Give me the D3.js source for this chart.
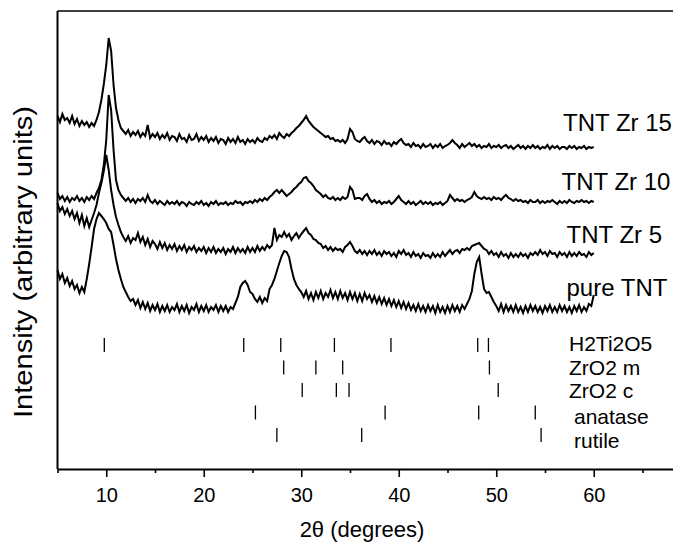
<!DOCTYPE html>
<html>
<head>
<meta charset="utf-8">
<title>XRD patterns TNT Zr</title>
<script src="https://cdn.jsdelivr.net/npm/d3@7/dist/d3.min.js"></script>
<style>
  body { margin: 0; background: #fff; }
  svg { display: block; font-family: Arial, "Liberation Sans", sans-serif; }
</style>
</head>
<body>
<div id="chart"></div>
<script>
const width = 673, height = 544;

// 2theta grid of the patterns: 5..60 deg, every 0.25 deg
const twoThetaStart = 5, twoThetaStep = 0.25;

const seriesNames = ["TNT Zr 15", "TNT Zr 10", "TNT Zr 5", "pure TNT"];

// stacked intensities (arbitrary units)
const zr15 = [
  353, 347, 355, 349, 351, 346, 353, 345, 350, 343, 348, 344, 347, 342, 346, 343,
  349, 357, 369, 385, 404, 431, 418, 384, 361, 349, 341, 338, 335, 339, 333, 337,
  334, 338, 332, 336, 333, 344, 331, 335, 332, 336, 330, 334, 331, 336, 329, 333,
  332, 328, 335, 330, 331, 327, 334, 329, 330, 335, 328, 332, 329, 333, 327, 331,
  328, 332, 326, 330, 329, 325, 331, 327, 330, 326, 332, 327, 329, 325, 330, 327,
  329, 326, 331, 328, 327, 331, 329, 333, 331, 334, 330, 336, 333, 331, 335, 333,
  336, 338, 341, 343, 346, 349, 353, 348, 345, 342, 340, 338, 336, 334, 332, 333,
  330, 331, 328, 329, 327, 329, 326, 330, 340, 337, 330, 328, 327, 330, 332, 328,
  326, 329, 325, 328, 327, 324, 328, 325, 326, 323, 327, 325, 328, 330, 326, 324,
  325, 322, 326, 323, 324, 321, 325, 322, 323, 325, 321, 324, 322, 325, 321, 323,
  324, 326, 329, 326, 324, 321, 325, 322, 324, 326, 323, 325, 322, 324, 321, 323,
  322, 325, 321, 323, 322, 324, 321, 323, 324, 321, 323, 320, 322, 324, 321, 323,
  320, 323, 321, 324, 321, 323, 320, 322, 321, 324, 320, 323, 321, 323, 320, 322,
  322, 320, 323, 321, 323, 320, 322, 321, 323, 320, 322, 321, 322
];
const zr10 = [
  276, 270, 273, 268, 272, 267, 271, 269, 273, 268, 271, 267, 272, 269, 273, 270,
  276, 281, 289, 304, 329, 374, 359, 319, 289, 279, 274, 271, 268, 271, 267, 270,
  266, 270, 268, 271, 267, 274, 268, 266, 269, 265, 268, 266, 264, 268, 265, 267,
  265, 268, 264, 267, 266, 263, 267, 265, 264, 267, 265, 268, 264, 266, 263, 267,
  265, 268, 264, 266, 265, 267, 264, 266, 265, 268, 266, 267, 264, 267, 266, 268,
  266, 269, 267, 270, 268, 271, 269, 272, 274, 277, 279, 276, 279, 276, 273, 275,
  277, 280, 282, 285, 287, 291, 292, 288, 286, 283, 279, 277, 275, 272, 274, 271,
  270, 272, 269, 271, 269, 272, 270, 272, 282, 279, 270, 271, 271, 269, 273, 275,
  270, 267, 269, 266, 268, 265, 267, 266, 268, 265, 267, 270, 273, 269, 267, 265,
  268, 265, 267, 264, 266, 268, 265, 267, 265, 267, 264, 266, 265, 267, 264, 266,
  268, 274, 271, 268, 270, 268, 269, 267, 269, 270, 272, 277, 273, 271, 270, 272,
  270, 271, 269, 272, 270, 271, 269, 272, 274, 271, 270, 268, 270, 268, 269, 267,
  268, 266, 269, 267, 267, 269, 266, 268, 266, 268, 267, 269, 267, 265, 268, 266,
  268, 266, 269, 267, 266, 268, 267, 269, 267, 268, 266, 268, 267
];
const zr5 = [
  266, 258, 262, 255, 260, 253, 258, 250, 256, 246, 254, 243, 251, 242, 249, 256,
  264, 276, 286, 298, 314, 299, 279, 264, 252, 244, 237, 232, 228, 233, 226, 231,
  229, 236, 227, 232, 224, 230, 222, 228, 225, 220, 227, 221, 226, 219, 224, 220,
  225, 218, 223, 219, 224, 217, 222, 219, 223, 217, 221, 218, 222, 216, 221, 217,
  222, 216, 220, 217, 221, 215, 220, 217, 222, 216, 221, 217, 220, 216, 222, 217,
  221, 217, 223, 218, 222, 219, 224, 221, 224, 241, 229, 234, 232, 237, 232, 235,
  229, 233, 236, 231, 235, 238, 241, 236, 234, 230, 229, 226, 225, 221, 223, 219,
  222, 218, 221, 219, 220, 217, 222, 224, 227, 223, 218, 216, 219, 215, 218, 214,
  218, 215, 219, 214, 217, 213, 218, 215, 217, 213, 216, 212, 218, 215, 219, 214,
  216, 212, 217, 213, 215, 211, 216, 213, 214, 211, 216, 212, 215, 212, 217, 213,
  216, 219, 215, 218, 219, 216, 220, 219, 221, 219, 223, 224, 225, 226, 223, 220,
  219, 215, 218, 214, 216, 212, 217, 213, 215, 211, 216, 212, 215, 212, 216, 213,
  215, 211, 216, 214, 217, 214, 219, 215, 217, 213, 218, 215, 216, 212, 217, 214,
  216, 212, 217, 213, 216, 213, 217, 214, 215, 212, 217, 214, 216
];
const pureTNT = [
  199, 190, 195, 186, 191, 183, 188, 180, 184, 176, 182, 177, 190, 205, 222, 240,
  250, 256, 253, 250, 246, 240, 237, 224, 210, 199, 190, 182, 177, 172, 168, 170,
  164, 169, 161, 167, 160, 166, 158, 164, 159, 165, 157, 163, 158, 164, 157, 162,
  159, 165, 157, 163, 158, 164, 156, 162, 159, 165, 157, 163, 158, 164, 157, 162,
  159, 164, 157, 163, 158, 163, 157, 162, 160, 166, 172, 182, 186, 188, 184, 177,
  175, 170, 167, 172, 166, 171, 168, 180, 184, 190, 198, 206, 213, 218, 217, 212,
  200, 190, 184, 180, 177, 172, 178, 170, 176, 169, 177, 171, 178, 170, 176, 172,
  179, 171, 177, 170, 178, 171, 176, 169, 177, 170, 176, 168, 175, 168, 176, 170,
  174, 167, 173, 166, 172, 165, 171, 164, 170, 163, 169, 162, 168, 161, 167, 160,
  166, 159, 164, 158, 165, 158, 163, 157, 164, 158, 163, 156, 164, 157, 162, 156,
  163, 157, 164, 158, 163, 157, 164, 160, 165, 170, 178, 195, 207, 212, 195, 180,
  176, 177, 172, 167, 163, 158, 165, 157, 164, 158, 163, 157, 164, 157, 162, 156,
  163, 157, 164, 158, 163, 157, 162, 156, 163, 158, 164, 157, 162, 157, 164, 158,
  163, 157, 162, 156, 163, 158, 164, 157, 162, 158, 165, 163, 174
];

// reference reflections (2theta, deg)
const phaseNames = ["H2Ti2O5", "ZrO2 m", "ZrO2 c", "anatase", "rutile"];
const refH2Ti2O5 = [9.8, 24.1, 27.9, 33.4, 39.2, 48.1, 49.2];
const refZrO2m = [28.2, 31.5, 34.25, 49.3];
const refZrO2c = [30.1, 33.6, 34.9, 50.2];
const refAnatase = [25.3, 38.6, 48.2, 54.0];
const refRutile = [27.5, 36.2, 54.6];

const majorTicks = [10, 20, 30, 40, 50, 60];
const minorTicks = [5, 15, 25, 35, 45, 55, 65];

const series = [zr15, zr10, zr5, pureTNT];
const refs = [refH2Ti2O5, refZrO2m, refZrO2c, refAnatase, refRutile];

// layout
const plotTop = 11, plotBottom = 469, plotLeft = 57.5;

const x = d3.scaleLinear().domain([5, 70]).range([plotLeft, plotLeft + 65 * 9.75]);
const y = d3.scaleLinear().domain([0, 458]).range([plotBottom, plotTop]);
const row = d3.scalePoint().domain(phaseNames).range([345, 435]);

const svg = d3.select("#chart").append("svg")
  .attr("width", width)
  .attr("height", height)
  .attr("viewBox", "0 0 " + width + " " + height);

// frame (left + top, the right side runs out of the picture)
svg.append("line")
  .attr("x1", x(5)).attr("x2", x(5))
  .attr("y1", plotTop).attr("y2", plotBottom)
  .attr("stroke", "#000").attr("stroke-width", 2);
svg.append("line")
  .attr("x1", x(5)).attr("x2", x(70))
  .attr("y1", plotTop).attr("y2", plotTop)
  .attr("stroke", "#000").attr("stroke-width", 1.6);

// bottom axis
const xAxis = svg.append("g")
  .attr("transform", "translate(0," + plotBottom + ")")
  .call(d3.axisBottom(x).tickValues(majorTicks).tickSize(8).tickSizeOuter(0)
    .tickPadding(10.5).tickFormat(d3.format("d")));
xAxis.select(".domain").attr("stroke-width", 2);
xAxis.selectAll(".tick line").attr("stroke-width", 1.6);
xAxis.selectAll(".tick text")
  .attr("font-size", 20).attr("fill", "#000")
  .attr("font-family", "Arial, 'Liberation Sans', sans-serif");

const xMinor = svg.append("g")
  .attr("transform", "translate(0," + plotBottom + ")")
  .call(d3.axisBottom(x).tickValues(minorTicks).tickSize(4).tickFormat(""));
xMinor.select(".domain").remove();
xMinor.selectAll(".tick line").attr("stroke-width", 1.6);

// patterns
const line = d3.line()
  .x((d, i) => x(twoThetaStart + i * twoThetaStep))
  .y(d => y(d));

svg.append("g")
  .selectAll("path")
  .data(series)
  .enter()
  .append("path")
  .attr("d", line)
  .attr("fill", "none")
  .attr("stroke", "#000")
  .attr("stroke-width", 2);

// series labels
const seriesLabelPos = [[563, 131], [561.5, 190], [566.5, 243], [566.5, 296]];
svg.append("g")
  .selectAll("text")
  .data(seriesNames)
  .enter()
  .append("text")
  .attr("x", (d, i) => seriesLabelPos[i][0])
  .attr("y", (d, i) => seriesLabelPos[i][1])
  .attr("font-size", 24)
  .text(d => d);

// reference sticks
const refG = svg.append("g");
refs.forEach((positions, k) => {
  const yc = row(phaseNames[k]);
  refG.selectAll(null)
    .data(positions)
    .enter()
    .append("line")
    .attr("x1", d => x(d)).attr("x2", d => x(d))
    .attr("y1", yc - 7).attr("y2", yc + 7)
    .attr("stroke", "#000")
    .attr("stroke-width", 1.3);
});

// phase labels, stacked tightly as in the figure
const phaseLabelPos = [[569, 351], [569, 374.5], [569, 398], [574, 424], [574, 447.5]];
svg.append("g")
  .selectAll("text")
  .data(phaseNames)
  .enter()
  .append("text")
  .attr("x", (d, i) => phaseLabelPos[i][0])
  .attr("y", (d, i) => phaseLabelPos[i][1])
  .attr("font-size", 21)
  .text(d => d);

// axis titles
svg.append("text")
  .attr("x", 362)
  .attr("y", 537)
  .attr("text-anchor", "middle")
  .attr("font-size", 22)
  .text("2\u03b8 (degrees)");

svg.append("text")
  .attr("transform", "translate(32,262) rotate(-90)")
  .attr("text-anchor", "middle")
  .attr("font-size", 25)
  .attr("textLength", 312)
  .attr("lengthAdjust", "spacingAndGlyphs")
  .text("Intensity (arbitrary units)");
</script>
</body>
</html>
